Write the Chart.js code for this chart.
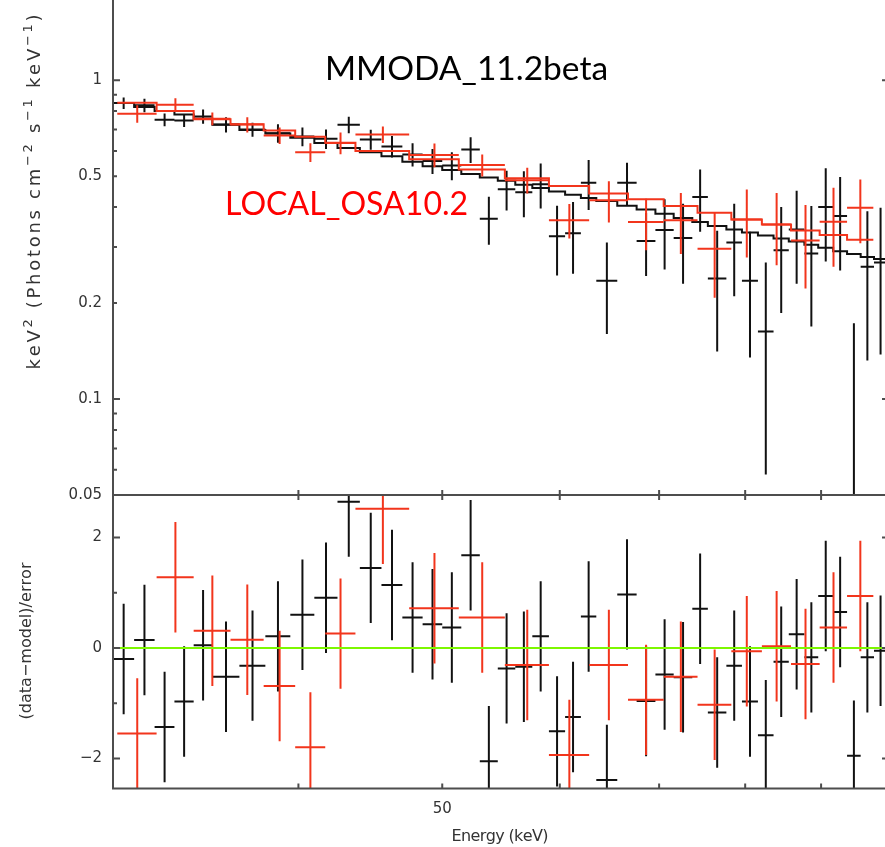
<!DOCTYPE html>
<html>
<head>
<meta charset="utf-8">
<script src="https://cdn.jsdelivr.net/npm/chart.js@4.4.1/dist/chart.umd.min.js"></script>
<style>
html,body{margin:0;padding:0;background:#fff;}
#wrap{position:relative;width:885px;height:847px;overflow:hidden;background:#fff;}
</style>
</head>
<body>
<div id="wrap"><canvas id="spec" width="889" height="847"></canvas></div>
<script>
// ===============================
// Data
// ===============================

// MMODA_11.2beta (black) bin edges, keV
const blackEdges = [30,31,32,33,34,35,36.5,38,39.5,41,42.5,44,45.5,47,48.5,50,51.5,53,54.5,56,57.5,59,60.5,62,63.5,
  65.6,67.6,69.6,71.6,73.7,75.5,77.7,79.6,81.6,83.6,85.6,87.7,89.6,91.7,93.7,95.7,97.7,99.7];
const blackFlux = [0.848,0.834,0.752,0.748,0.77,0.726,0.700,0.682,0.666,0.655,0.725,0.652,0.620,0.585,0.558,0.54,
  0.606,0.368,0.455,0.445,0.472,0.324,0.331,0.477,0.235,0.477,0.313,0.339,0.32,0.43,0.239,0.31,0.235,0.163,
  0.293,0.34,0.286,0.40,0.375,0.045,0.26,0.268];
const blackErr = [0.035,0.04,0.035,0.035,0.04,0.04,0.035,0.045,0.045,0.046,0.043,0.047,0.048,0.049,0.05,0.054,
  0.056,0.063,0.065,0.073,0.076,0.08,0.084,0.085,0.075,0.074,0.07,0.084,0.09,0.095,0.098,0.1,0.1,0.105,
  0.107,0.11,0.117,0.13,0.122,0.128,0.128,0.13];
const blackModel = [0.848,0.824,0.80,0.781,0.757,0.725,0.698,0.68,0.66,0.636,0.613,0.594,0.577,0.555,0.537,0.523,
  0.508,0.495,0.484,0.47,0.459,0.448,0.437,0.427,0.418,0.404,0.393,0.381,0.37,0.359,0.349,0.34,0.333,0.326,
  0.319,0.312,0.305,0.298,0.291,0.285,0.279,0.275];
const blackResid = [-0.2,0.145,-1.43,-0.97,0.05,-0.52,-0.32,0.21,0.6,0.91,2.65,1.45,1.14,0.55,0.43,0.37,1.68,-2.05,
  -0.37,-0.34,0.21,-1.51,-1.25,0.57,-2.39,0.97,-0.96,-0.48,-0.53,0.71,-1.17,-0.32,-0.97,-1.58,-0.25,0.25,
  -0.17,0.94,0.65,-1.95,-0.17,-0.05];

// LOCAL_OSA10.2 (red) bin edges, keV
const redEdges = [30.2,32.1,34.0,36.0,37.9,39.8,41.7,43.7,47.5,51.3,55.1,59.0,62.8,66.7,70.5,74.3,78.3,82.1,85.9,89.8,93.7,97.6];
const redFlux = [0.785,0.838,0.757,0.726,0.671,0.594,0.636,0.676,0.583,0.542,0.486,0.364,0.42,0.359,0.364,0.296,
  0.366,0.353,0.314,0.36,0.398];
const redErr = [0.05,0.04,0.035,0.04,0.04,0.04,0.05,0.04,0.05,0.043,0.045,0.045,0.062,0.066,0.079,0.088,0.088,
  0.09,0.092,0.10,0.09];
const redModel = [0.85,0.80,0.755,0.728,0.695,0.665,0.637,0.60,0.565,0.525,0.493,0.466,0.441,0.423,0.403,0.384,
  0.366,0.353,0.338,0.327,0.316];
const redResid = [-1.55,1.28,0.31,0.15,-0.69,-1.8,0.26,2.52,0.72,0.55,-0.31,-1.94,-0.31,-0.94,-0.52,-1.03,-0.06,
  0.03,-0.29,0.37,0.94];

// axis ticks
const xTickVals = [40,50,60,70,80,90];
const xLabelVals = [50];
const fluxTickVals = [0.05,0.06,0.07,0.08,0.09,0.1,0.2,0.3,0.4,0.5,0.6,0.7,0.8,0.9,1];
const fluxLabelVals = [0.05,0.1,0.2,0.5,1];
const fluxMajorVals = [0.1,1];
const residTickVals = [-2,-1,0,1,2];
const residLabelVals = [-2,0,2];

const BLACK = '#111111';
const RED = '#f2351c';
const GREEN = '#7df700';
const AXIS = '#4d4d4d';
const PG_FONT = '"DejaVu Sans", sans-serif';

// ===============================
// helpers building the marks
// ===============================

// floor: lowest value an error bar may reach (log panel can't go to zero)
function crossPoints(edges, vals, errs, floor){
  const pts = [];
  for(let i=0;i<vals.length;i++){
    const lo = edges[i], hi = edges[i+1], c = (lo+hi)/2;
    const v = vals[i];
    const e = Array.isArray(errs) ? errs[i] : errs;
    let bottom = v - e;
    if(floor !== undefined) bottom = Math.max(bottom, floor);
    pts.push({x:lo,y:v},{x:hi,y:v},{x:hi,y:null});
    pts.push({x:c,y:bottom},{x:c,y:v+e},{x:c,y:null});
  }
  return pts;
}

function stepPoints(edges, vals){
  const pts = vals.map((v,i)=>({x:edges[i],y:v}));
  pts.push({x:edges[vals.length],y:vals[vals.length-1]});
  return pts;
}

function lineSet(data, color, yAxis, extra){
  return Object.assign({
    type:'line',
    data:data,
    borderColor:color,
    borderWidth:2,
    pointRadius:0,
    fill:false,
    spanGaps:false,
    clip:0,
    xAxisID:'x',
    yAxisID:yAxis
  }, extra || {});
}

// ===============================
// frame, inward ticks and texts
// ===============================

function spacedText(ctx, runs, len, size){
  const chars = [];
  runs.forEach(r=>{ for(const ch of r[0]) chars.push({ch:ch, sup:r[1]}); });
  let natural = 0;
  chars.forEach(c=>{
    ctx.font = (c.sup ? Math.round(size*0.7) : size) + 'px ' + PG_FONT;
    c.w = ctx.measureText(c.ch).width;
    natural += c.w;
  });
  const gap = (len - natural) / (chars.length - 1);
  let x = -len/2;
  chars.forEach(c=>{
    ctx.font = (c.sup ? Math.round(size*0.7) : size) + 'px ' + PG_FONT;
    ctx.fillText(c.ch, x, c.sup ? -size*0.45 : 0);
    x += c.w + gap;
  });
}

function fitText(ctx, text, family, width){
  ctx.font = '100px ' + family;
  const w = ctx.measureText(text).width;
  ctx.font = (100*width/w).toFixed(1) + 'px ' + family;
}

const framePlugin = {
  id:'frame',
  afterDraw(chart){
    const ctx = chart.ctx;
    const xs = chart.scales.x, yt = chart.scales.y, yb = chart.scales.y2;
    const L = xs.left, R = xs.right, T = yt.top, M = yt.bottom, B = yb.bottom;

    ctx.save();
    ctx.strokeStyle = AXIS;
    ctx.lineWidth = 2;
    ctx.beginPath();
    ctx.moveTo(L,T); ctx.lineTo(L,B); ctx.lineTo(R,B); ctx.lineTo(R,T);
    ctx.moveTo(L,M); ctx.lineTo(R,M);
    fluxTickVals.forEach(v=>{
      const p = yt.getPixelForValue(v);
      const len = fluxMajorVals.includes(v) ? 7 : 4;
      ctx.moveTo(L,p); ctx.lineTo(L+len,p);
      ctx.moveTo(R,p); ctx.lineTo(R-len,p);
    });
    residTickVals.forEach(v=>{
      const p = yb.getPixelForValue(v);
      const len = residLabelVals.includes(v) ? 7 : 4;
      ctx.moveTo(L,p); ctx.lineTo(L+len,p);
      ctx.moveTo(R,p); ctx.lineTo(R-len,p);
    });
    xTickVals.forEach(v=>{
      const p = xs.getPixelForValue(v);
      ctx.moveTo(p,B); ctx.lineTo(p,B-5);
      ctx.moveTo(p,M-5); ctx.lineTo(p,M+5);
    });
    ctx.stroke();

    // axis titles
    ctx.fillStyle = '#333';
    ctx.textBaseline = 'alphabetic';
    ctx.textAlign = 'left';

    ctx.save();
    ctx.translate(40, 192);
    ctx.rotate(-Math.PI/2);
    spacedText(ctx, [['keV',false],['2',true],[' (Photons cm',false],['\u22122',true],[' s',false],
      ['\u22121',true],[' keV',false],['\u22121',true],[')',false]], 355, 18);
    ctx.restore();

    ctx.save();
    ctx.translate(31, 641);
    ctx.rotate(-Math.PI/2);
    spacedText(ctx, [['(data\u2212model)/error',false]], 157, 16);
    ctx.restore();

    ctx.save();
    ctx.translate(500, 841);
    spacedText(ctx, [['Energy (keV)',false]], 97, 16);
    ctx.restore();

    // labels put on the figure
    ctx.fillStyle = '#000';
    fitText(ctx, 'MMODA_11.2beta', 'Lato, "Open Sans", sans-serif', 283);
    ctx.fillText('MMODA_11.2beta', 325, 80);
    ctx.fillStyle = '#ff0000';
    fitText(ctx, 'LOCAL_OSA10.2', 'Lato, "Open Sans", sans-serif', 243);
    ctx.fillText('LOCAL_OSA10.2', 225, 215);
    ctx.restore();
  }
};

// ===============================
// Chart
// ===============================

const tickFont = {family:PG_FONT, size:15};

new Chart(document.getElementById('spec'),{
  type:'line',
  data:{
    datasets:[
      lineSet([{x:30,y:0},{x:100,y:0}], GREEN, 'y2'),
      lineSet(stepPoints(redEdges, redModel), RED, 'y', {stepped:true}),
      lineSet(crossPoints(redEdges, redFlux, redErr, 0.001), RED, 'y'),
      lineSet(crossPoints(redEdges, redResid, 1), RED, 'y2'),
      lineSet(stepPoints(blackEdges, blackModel), BLACK, 'y', {stepped:true}),
      lineSet(crossPoints(blackEdges, blackFlux, blackErr, 0.001), BLACK, 'y'),
      lineSet(crossPoints(blackEdges, blackResid, 1), BLACK, 'y2')
    ]
  },
  options:{
    responsive:false,
    devicePixelRatio:1,
    animation:false,
    events:[],
    layout:{padding:0},
    plugins:{legend:{display:false}, tooltip:{enabled:false}},
    scales:{
      x:{
        type:'logarithmic',
        position:'bottom',
        min:30, max:100,
        grid:{display:false, drawTicks:false},
        border:{display:false},
        ticks:{
          autoSkip:false, maxRotation:0, padding:12, color:'#333', font:tickFont,
          callback:(v)=> xLabelVals.includes(v) ? String(v) : ''
        },
        afterBuildTicks:(s)=>{ s.ticks = xTickVals.map(v=>({value:v})); },
        afterFit:(s)=>{ s.height = 58.5; s.paddingLeft = 0; s.paddingRight = 0; }
      },
      // residual panel listed first: left-side stacks are placed in reverse order
      y2:{
        type:'linear',
        position:'left',
        stack:'panels',
        stackWeight:293.5,
        min:-2.545, max:2.77,
        grid:{display:false, drawTicks:false},
        border:{display:false},
        ticks:{
          autoSkip:false, padding:11, color:'#333', font:tickFont,
          callback:(v)=> residLabelVals.includes(v) ? String(v).replace('-','\u2212') : ''
        },
        afterBuildTicks:(s)=>{ s.ticks = residTickVals.map(v=>({value:v})); },
        afterFit:(s)=>{ s.width = 113; s.paddingTop = 0; s.paddingBottom = 0; }
      },
      y:{
        type:'logarithmic',
        position:'left',
        stack:'panels',
        stackWeight:495,
        min:0.05, max:1.785,
        grid:{display:false, drawTicks:false},
        border:{display:false},
        ticks:{
          autoSkip:false, padding:11, color:'#333', font:tickFont,
          callback:(v)=> fluxLabelVals.includes(v) ? String(v) : ''
        },
        afterBuildTicks:(s)=>{ s.ticks = fluxTickVals.map(v=>({value:v})); },
        afterFit:(s)=>{ s.width = 113; s.paddingTop = 0; s.paddingBottom = 0; }
      }
    }
  },
  plugins:[framePlugin]
});
</script>
</body>
</html>
